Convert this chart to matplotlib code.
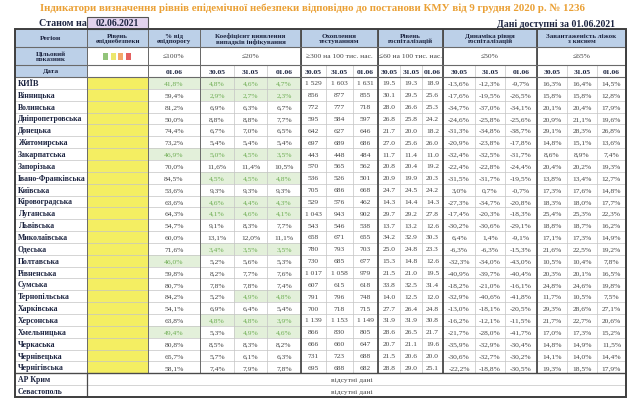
import matplotlib
matplotlib.use("Agg")
import matplotlib.pyplot as plt
from matplotlib.patches import Rectangle

plt.rcParams['font.family'] = ['Liberation Serif', 'DejaVu Serif']

regions = ["КИЇВ", "Вінницька", "Волинська", "Дніпропетровська", "Донецька", "Житомирська",
           "Закарпатська", "Запорізька", "Івано-Франківська", "Київська", "Кіровоградська",
           "Луганська", "Львівська", "Миколаївська", "Одеська", "Полтавська", "Рівненська",
           "Сумська", "Тернопільська", "Харківська", "Херсонська", "Хмельницька", "Черкаська",
           "Чернівецька", "Чернігівська"]
no_data = ["АР Крим", "Севастополь"]

pct = [41.8, 59.4, 81.2, 50.0, 74.4, 73.2, 46.9, 70.0, 84.5, 53.6, 63.6, 64.3, 54.7,
       60.0, 71.6, 46.0, 59.8, 80.7, 84.2, 54.1, 63.8, 49.4, 80.8, 65.7, 58.1]

coef = [[4.8, 4.6, 4.7], [2.9, 2.7, 2.3], [6.9, 6.3, 6.7], [8.8, 8.8, 7.7], [6.7, 7.0, 6.5],
        [5.4, 5.4, 5.4], [5.0, 4.5, 3.5], [11.6, 11.4, 10.5], [4.5, 4.5, 4.8], [9.3, 9.3, 9.3],
        [4.6, 4.4, 4.3], [4.1, 4.6, 4.1], [9.1, 8.3, 7.7], [13.1, 12.0, 11.1], [3.4, 3.5, 3.5],
        [5.2, 5.6, 5.3], [8.2, 7.7, 7.6], [7.8, 7.8, 7.4], [5.2, 4.9, 4.8], [6.9, 6.4, 5.4],
        [4.8, 4.8, 3.9], [5.3, 4.9, 4.6], [8.5, 8.3, 8.2], [5.7, 6.1, 6.3], [7.4, 7.9, 7.8]]

testing = [[1529, 1603, 1631], [856, 877, 855], [772, 777, 718], [595, 584, 597], [642, 627, 646],
           [697, 689, 686], [443, 448, 484], [570, 565, 562], [536, 526, 501], [705, 686, 668],
           [529, 576, 462], [1043, 943, 902], [543, 546, 538], [658, 671, 655], [780, 793, 703],
           [730, 685, 677], [1017, 1058, 979], [607, 615, 618], [791, 796, 748], [700, 718, 715],
           [1139, 1153, 1149], [866, 830, 805], [666, 660, 647], [731, 723, 688], [695, 688, 682]]

hosp = [[19.5, 19.3, 18.9], [30.1, 29.5, 25.6], [28.0, 26.6, 25.3], [26.8, 25.8, 24.2],
        [21.7, 20.0, 18.2], [27.0, 25.6, 26.0], [11.7, 11.4, 11.0], [20.8, 20.4, 19.2],
        [20.9, 19.9, 20.3], [24.7, 24.5, 24.2], [14.3, 14.4, 14.3], [29.7, 29.2, 27.8],
        [13.7, 13.2, 12.6], [34.2, 32.9, 30.3], [25.0, 24.8, 23.3], [15.3, 14.8, 12.6],
        [21.5, 21.0, 19.5], [33.8, 32.5, 31.4], [14.0, 12.5, 12.0], [27.7, 26.4, 24.8],
        [31.9, 31.9, 30.8], [28.6, 26.5, 21.7], [20.7, 21.1, 19.6], [21.5, 20.6, 20.0],
        [28.8, 29.0, 25.1]]

dynamics = [[-13.6, -12.3, -9.7], [-17.6, -19.5, -26.5], [-34.7, -37.0, -34.1], [-24.6, -25.8, -25.6],
            [-31.3, -34.8, -38.7], [-20.9, -23.8, -17.8], [-32.4, -32.5, -31.7], [-22.4, -22.8, -24.4],
            [-31.5, -31.7, -19.5], [3.0, 0.7, -0.7], [-27.3, -34.7, -20.8], [-17.4, -20.3, -18.3],
            [-30.2, -30.6, -29.1], [6.4, 1.4, -9.1], [-6.3, -6.3, -15.3], [-32.3, -34.0, -43.0],
            [-40.9, -39.7, -40.4], [-18.2, -21.0, -16.1], [-32.9, -40.6, -41.8], [-13.0, -18.1, -20.5],
            [-16.2, -12.1, -11.5], [-21.7, -28.0, -41.7], [-35.9, -32.9, -30.4], [-30.6, -32.7, -30.2],
            [-22.2, -18.8, -30.5]]

oxygen = [[16.3, 16.4, 14.5], [15.8, 15.8, 12.8], [20.1, 20.4, 17.9], [20.9, 21.1, 19.6],
          [29.1, 28.3, 26.8], [14.8, 15.1, 13.6], [8.6, 8.9, 7.4], [20.4, 20.2, 19.3],
          [13.8, 13.4, 12.7], [17.3, 17.6, 14.8], [18.3, 18.0, 17.7], [25.4, 25.3, 22.3],
          [18.8, 18.7, 16.2], [17.1, 17.3, 14.9], [21.6, 22.5, 19.2], [10.5, 10.4, 7.8],
          [20.3, 20.1, 16.5], [24.8, 24.6, 19.8], [11.7, 10.5, 7.5], [29.3, 28.6, 27.1],
          [21.7, 22.7, 20.6], [17.0, 17.3, 15.2], [14.8, 14.9, 11.5], [14.1, 14.0, 14.4],
          [19.3, 18.5, 17.9]]

groups = ["Коефіцієнт виявлення\nвипадків інфікування", "Охоплення\nтестуванням",
          "Рівень\nгоспіталізацій", "Динаміка рівня\nгоспіталізацій",
          "Завантаженість ліжок\nз киснем"]
targets = ["≤20%", "≥300 на 100 тис. нас.", "≤60 на 100 тис. нас.", "≤50%", "≤65%"]
dates = ["30.05", "31.05", "01.06"]

title = "Індикатори визначення рівнів епідемічної небезпеки відповідно до постанови КМУ від 9 грудня 2020 р. № 1236"

# layout (pixels)
W, H = 632, 406
cols = [15, 87, 148, 200, 234, 267, 301, 326, 353, 378, 400, 422, 443, 475, 505, 537, 567, 597, 626]
hdr = [30, 48, 66, 78]
n_rows = len(regions) + len(no_data)
rh = (398 - hdr[-1]) / n_rows
rows = [hdr[-1] + i * rh for i in range(n_rows + 1)]

BLUE = "#bcd0e8"
YELLOW = "#f4ee62"
GREEN_BG = "#e3f0da"
GREEN_TX = "#6fae55"
TX = "#444444"
NAVY = "#1c2440"

fig = plt.figure(figsize=(W / 100, H / 100), dpi=100)
ax = fig.add_axes([0, 0, 1, 1])
ax.set_xlim(0, W)
ax.set_ylim(H, 0)
ax.axis("off")


def cell(x0, x1, y0, y1, fc):
    ax.add_patch(Rectangle((x0, y0), x1 - x0, y1 - y0, facecolor=fc, edgecolor="none", zorder=1))


def txt(x, y, s, size=5.4, color=TX, bold=False, ha="center"):
    ax.text(x, y, s, fontsize=size, color=color, ha=ha, va="center",
            fontweight="bold" if bold else "normal", zorder=5, linespacing=1.0)


def hline(y, x0, x1, lw=0.6, color="#b0b0b0"):
    ax.plot([x0, x1], [y, y], color=color, lw=lw, zorder=3, solid_capstyle="butt")


def vline(x, y0, y1, lw=0.6, color="#b0b0b0"):
    ax.plot([x, x], [y0, y1], color=color, lw=lw, zorder=3, solid_capstyle="butt")


# title and top labels
ax.text(312, 8, title, fontsize=7.8, color="#eaa035", ha="center", va="center", fontweight="bold")
txt(63, 24, "Станом на", size=7.2, color=NAVY, bold=True)
ax.add_patch(Rectangle((87, 18), 61, 12, facecolor="#e2d3ee", edgecolor="#555555", lw=0.8, zorder=2))
txt(117.5, 24, "02.06.2021", size=7.0, color=NAVY, bold=True)
txt(615, 24, "Дані доступні за 01.06.2021", size=7.0, color=NAVY, bold=True, ha="right")

# header row 1
cell(cols[0], cols[-1], hdr[0], hdr[1], BLUE)
mid = lambda a, b: (a + b) / 2
txt(mid(cols[0], cols[1]), mid(hdr[0], hdr[1]), "Регіон", bold=True, color=NAVY)
txt(mid(cols[1], cols[2]), mid(hdr[0], hdr[1]), "Рівень\nепіднебезпеки", size=5.0, bold=True, color=NAVY)
txt(mid(cols[2], cols[3]), mid(hdr[0], hdr[1]), "% від\nепідпорогу", size=5.0, bold=True, color=NAVY)
for g, name in enumerate(groups):
    a, b = cols[3 + 3 * g], cols[6 + 3 * g]
    txt(mid(a, b), mid(hdr[0], hdr[1]), name, size=5.0, bold=True, color=NAVY)

# header row 2 (targets)
cell(cols[0], cols[1], hdr[1], hdr[2], BLUE)
txt(mid(cols[0], cols[1]), mid(hdr[1], hdr[2]), "Цільовий\nпоказник", size=5.0, bold=True, color=NAVY)
sq_colors = ["#92c47a", "#ece76c", "#f4a86a", "#e46060"]
for k, c in enumerate(sq_colors):
    ax.add_patch(Rectangle((103 + k * 7.5, 54), 5, 7, facecolor=c, edgecolor="none", zorder=4))
txt(mid(cols[2], cols[3]), mid(hdr[1], hdr[2]), "≤100%", size=5.4)
for g, t in enumerate(targets):
    a, b = cols[3 + 3 * g], cols[6 + 3 * g]
    txt(mid(a, b), mid(hdr[1], hdr[2]), t, size=5.4)

# header row 3 (dates)
cell(cols[0], cols[1], hdr[2], hdr[3], BLUE)
txt(mid(cols[0], cols[1]), mid(hdr[2], hdr[3]), "Дата", bold=True, color=NAVY)
txt(mid(cols[2], cols[3]), mid(hdr[2], hdr[3]), "01.06", bold=True, color=NAVY)
for g in range(len(groups)):
    for d, lab in enumerate(dates):
        a, b = cols[3 + 3 * g + d], cols[4 + 3 * g + d]
        txt(mid(a, b), mid(hdr[2], hdr[3]), lab, bold=True, color=NAVY)


def fmt_pct(v):
    return f"{v:.1f}%".replace(".", ",")


# body
for i, reg in enumerate(regions):
    y0, y1 = rows[i], rows[i + 1]
    yc = mid(y0, y1)
    txt(cols[0] + 3, yc, reg, size=5.6 if i else 6.0, color=NAVY, bold=True, ha="left")
    cell(cols[1], cols[2], y0, y1, YELLOW)
    green = pct[i] < 50
    if green:
        cell(cols[2], cols[3], y0, y1, GREEN_BG)
    txt(mid(cols[2], cols[3]), yc, fmt_pct(pct[i]), color=GREEN_TX if green else TX)
    for d in range(3):
        a, b = cols[3 + d], cols[4 + d]
        green = coef[i][d] <= 5.0
        if green:
            cell(a, b, y0, y1, GREEN_BG)
        txt(mid(a, b), yc, fmt_pct(coef[i][d]), color=GREEN_TX if green else TX)
        a, b = cols[6 + d], cols[7 + d]
        txt(mid(a, b), yc, f"{testing[i][d]:,}".replace(",", " "))
        a, b = cols[9 + d], cols[10 + d]
        txt(mid(a, b), yc, f"{hosp[i][d]:.1f}")
        a, b = cols[12 + d], cols[13 + d]
        txt(mid(a, b), yc, fmt_pct(dynamics[i][d]))
        a, b = cols[15 + d], cols[16 + d]
        txt(mid(a, b), yc, fmt_pct(oxygen[i][d]))

for j, reg in enumerate(no_data):
    i = len(regions) + j
    yc = mid(rows[i], rows[i + 1])
    txt(cols[0] + 3, yc, reg, size=5.6, color=NAVY, bold=True, ha="left")
    txt(352, yc, "відсутні дані", size=5.4)

# grid lines
body_end = rows[len(regions)]
for y in rows[1:-1]:
    hline(y, cols[0], cols[-1], lw=0.5, color="#c4c4c4")
for x in cols[1:-1]:
    vline(x, hdr[2], body_end, lw=0.5, color="#c4c4c4")
for x in [cols[1], cols[2]] + [cols[3 + 3 * g] for g in range(6)]:
    vline(x, hdr[0], hdr[2], lw=0.7, color="#7a7a7a")
for x in [cols[1], cols[2], cols[3]]:
    vline(x, hdr[0], body_end, lw=0.7, color="#6a6a6a")
for x in [cols[6], cols[9], cols[12], cols[15]]:
    vline(x, hdr[0], body_end, lw=1.3, color="#4a4a4a")
vline(cols[1], body_end, rows[-1], lw=0.9, color="#4a4a4a")
for y in hdr[1:]:
    hline(y, cols[0], cols[-1], lw=0.8, color="#6a6a6a")
hline(body_end, cols[0], cols[-1], lw=1.0, color="#4a4a4a")
ax.add_patch(Rectangle((cols[0], hdr[0]), cols[-1] - cols[0], rows[-1] - hdr[0],
                       facecolor="none", edgecolor="#3e3e3e", lw=1.4, zorder=6))

fig.savefig("out.png", dpi=100)
